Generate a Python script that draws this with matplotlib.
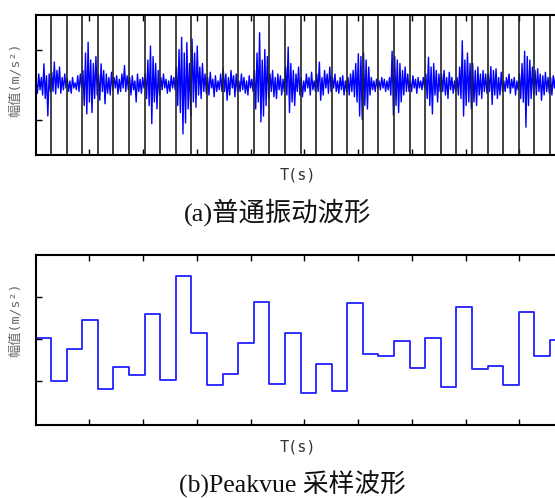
import numpy as np
import matplotlib
matplotlib.use("Agg")
import matplotlib.pyplot as plt

# window length (s) of one Peakvue segment
dt = 0.29

# (a) raw vibration signal, 12 samples per window
vib = [
    [0.1, -0.25, 0.3, -0.15, 0.2, -0.3, 0.59, -0.4, 0.25, -0.9, 0.3, -0.2],
    [0.35, -0.2, 0.64, -0.27, 0.4, -0.1, 0.5, -0.25, 0.2, -0.15, 0.3, -0.1],
    [0.15, -0.2, 0.1, -0.25, 0.2, -0.1, 0.05, -0.15, 0.25, -0.2, 0.3, -0.1],
    [0.4, -0.6, 0.9, -0.84, 1.21, -0.5, 0.7, -0.8, 0.6, -0.4, 0.8, -0.3],
    [0.3, -0.45, 0.59, -0.2, 0.4, -0.55, 0.3, -0.25, 0.2, -0.3, 0.35, -0.15],
    [0.2, -0.1, 0.25, -0.27, 0.15, -0.2, 0.3, -0.1, 0.54, -0.2, 0.25, -0.15],
    [0.2, -0.3, 0.25, -0.15, 0.1, -0.5, 0.3, -0.2, 0.15, -0.25, 0.2, -0.1],
    [0.3, -0.4, 0.7, -0.6, 1.1, -1.12, 0.8, -0.5, 0.6, -0.7, 0.4, -0.3],
    [0.2, -0.15, 0.3, -0.1, 0.15, -0.25, 0.1, -0.2, 0.25, -0.1, 0.2, -0.15],
    [0.5, -0.6, 1.0, -0.8, 1.35, -1.41, 0.9, -1.1, 1.2, -0.7, 0.6, -0.9],
    [1.3, -0.5, 0.9, -0.65, 1.1, -0.3, 0.5, -0.4, 0.6, -0.2, 0.3, -0.25],
    [0.2, -0.3, 0.35, -0.1, 0.15, -0.35, 0.25, -0.2, 0.1, -0.15, 0.3, -0.2],
    [0.45, -0.2, 0.3, -0.45, 0.2, -0.3, 0.4, -0.1, 0.25, -0.35, 0.3, -0.2],
    [0.1, -0.2, 0.3, -0.15, 0.2, -0.25, 0.1, -0.3, 0.25, -0.1, 0.15, -0.2],
    [0.4, -0.7, 0.9, -0.5, 1.48, -1.07, 0.7, -0.9, 1.0, -0.6, 0.8, -0.4],
    [0.3, -0.2, 0.4, -0.35, 0.2, -0.4, 0.3, -0.15, 0.25, -0.3, 0.15, -0.2],
    [0.5, -0.3, 1.07, -0.8, 0.6, -0.5, 0.4, -0.6, 0.3, -0.2, 0.5, -0.3],
    [0.2, -0.35, 0.1, -0.2, 0.3, -0.1, 0.2, -0.3, 0.35, -0.15, 0.1, -0.2],
    [0.3, -0.2, 0.64, -0.45, 0.2, -0.3, 0.4, -0.1, 0.3, -0.25, 0.5, -0.2],
    [0.2, -0.1, 0.3, -0.2, 0.1, -0.25, 0.2, -0.15, 0.25, -0.3, 0.1, -0.2],
    [0.2, -0.3, 0.3, -0.2, 0.4, -0.35, 0.6, -0.5, 0.88, -0.9, 0.8, -1.0],
    [0.9, -0.6, 0.7, -0.7, 0.5, -0.3, 0.2, -0.15, 0.1, -0.2, 0.15, -0.1],
    [0.1, -0.15, 0.2, -0.1, 0.15, -0.2, 0.1, -0.15, 0.2, -0.3, 0.95, -0.88],
    [0.8, -0.6, 0.7, -0.8, 0.6, -0.5, 0.4, -0.3, 0.5, -0.2, 0.3, -0.2],
    [0.1, -0.2, 0.25, -0.1, 0.15, -0.25, 0.2, -0.1, 0.1, -0.15, 0.2, -0.1],
    [0.3, -0.4, 0.78, -0.6, 0.5, -0.84, 0.6, -0.3, 0.4, -0.5, 0.3, -0.2],
    [0.3, -0.2, 0.4, -0.3, 0.2, -0.4, 0.35, -0.15, 0.2, -0.25, 0.1, -0.2],
    [0.2, -0.3, 0.5, -0.4, 1.25, -0.9, 0.7, -0.6, 0.9, -0.5, 0.6, -0.7],
    [0.6, -0.5, 0.4, -0.6, 0.5, -0.3, 0.3, -0.4, 0.4, -0.2, 0.3, -0.25],
    [0.3, -0.2, 0.51, -0.57, 0.4, -0.3, 0.45, -0.4, 0.2, -0.3, 0.35, -0.2],
    [0.1, -0.2, 0.2, -0.1, 0.3, -0.25, 0.15, -0.1, 0.2, -0.3, 0.1, -0.15],
    [0.3, -0.4, 0.6, -0.5, 0.95, -1.22, 0.8, -0.6, 0.7, -0.4, 0.5, -0.3],
    [0.4, -0.3, 0.45, -0.2, 0.3, -0.45, 0.25, -0.3, 0.35, -0.2, 0.2, -0.25],
    [0.2, -0.3, 0.25, -0.1, 0.3, -0.2, 0.1, -0.25, 0.2, -0.1, 0.15, -0.2],
]

# (b) Peakvue value held over each window
peak = [0.02, -1.0, -0.24, 0.45, -1.2, -0.66, -0.87, 0.59, -0.99, 1.49,
        0.14, -1.11, -0.84, -0.1, 0.89, -1.08, 0.14, -1.29, -0.6, -1.23,
        0.86, -0.37, -0.40, -0.06, -0.70, 0.02, -1.14, 0.77, -0.72, -0.64,
        -1.11, 0.65, -0.40, -0.02]

ylab = "幅值(m/s²)"
cap_a = "(a)普通振动波形"
cap_b = "(b)Peakvue 采样波形"

mono = ["DejaVu Sans Mono", "Noto Sans CJK SC"]
serif = ["Liberation Serif", "Noto Sans CJK SC"]

sig = np.concatenate([np.array(w) for w in vib])
per = len(vib[0])
t = np.arange(len(sig)) * dt / per + dt / per / 2
edges = np.arange(len(peak) + 1) * dt
xmax = 524.5 / 15.59 * dt

fig = plt.figure(figsize=(5.55, 4.98), dpi=100)
ax1 = fig.add_axes([35.5 / 555, 1 - 154.5 / 498, 524.5 / 555, 140 / 498])
ax2 = fig.add_axes([35.5 / 555, 1 - 424.5 / 498, 524.5 / 555, 169.5 / 498])

# top: raw signal + window dividers
ax1.plot(t, sig, color="#0000ff", lw=1.0)
for e in edges[1:]:
    ax1.axvline(e, color="#222222", lw=1.2)
ax1.set_xlim(0, xmax)
ax1.set_ylim(-2, 2)

# bottom: held peak values
ax2.plot(edges, peak + [peak[-1]], drawstyle="steps-post", color="#2020ff", lw=1.3)
ax2.set_xlim(0, xmax)
ax2.set_ylim(-2.04, 2.0)

for ax in (ax1, ax2):
    ax.set_yticks([-1, 0, 1])
    ax.set_xticks(np.arange(1, 10))
    ax.tick_params(direction="in", length=4, width=1, top=True, right=False,
                   labelleft=False, labelbottom=False)
    for s in ax.spines.values():
        s.set_linewidth(1.5)

fig.text(0.027, 1 - 80 / 498, ylab, rotation=90, ha="center", va="center",
         fontsize=9.5, color="#666666", family=mono)
fig.text(0.027, 1 - 320 / 498, ylab, rotation=90, ha="center", va="center",
         fontsize=9.5, color="#666666", family=mono)
fig.text(298 / 555, 1 - 175 / 498, "T(s)", ha="center", va="center",
         fontsize=11, color="#333333", family=mono)
fig.text(298 / 555, 1 - 447 / 498, "T(s)", ha="center", va="center",
         fontsize=11, color="#333333", family=mono)
fig.text(278 / 555, 1 - 212 / 498, cap_a, ha="center", va="center",
         fontsize=19, color="#111111", family=serif)
fig.text(292 / 555, 1 - 484 / 498, cap_b, ha="center", va="center",
         fontsize=18.5, color="#111111", family=serif)

fig.savefig("out.png", dpi=100)
